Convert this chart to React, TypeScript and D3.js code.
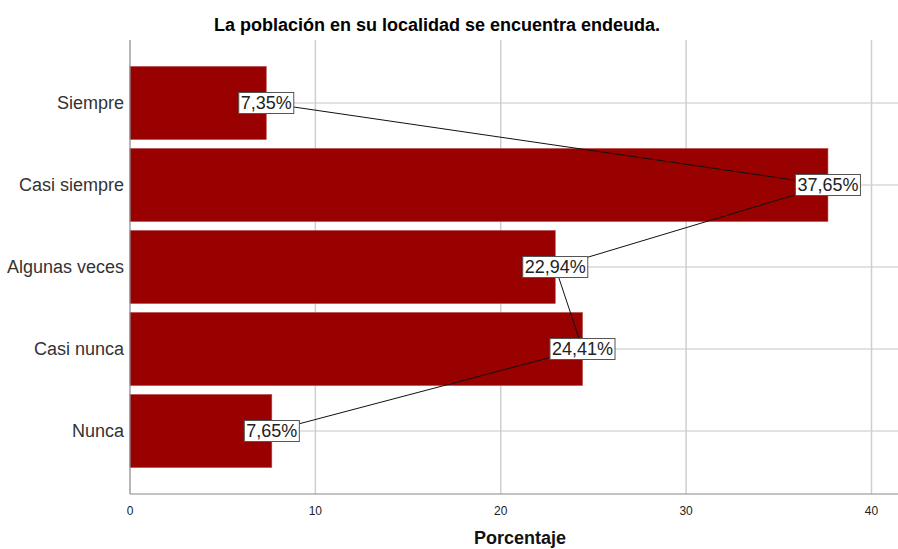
import React from "react";
import * as d3 from "d3";

const categories = ["Siempre", "Casi siempre", "Algunas veces", "Casi nunca", "Nunca"];
const values = [7.35, 37.65, 22.94, 24.41, 7.65];
const valueLabels = ["7,35%", "37,65%", "22,94%", "24,41%", "7,65%"];
const xTicks = [0, 10, 20, 30, 40];

const W = 898;
const H = 549;
const left = 130;
const right = 898;
const top = 40;
const bottom = 494;

function textWidth(s: string, size: number) {
  let w = 0;
  for (const ch of s) {
    if (ch === ",") w += 0.278;
    else if (ch === "%") w += 0.889;
    else w += 0.556;
  }
  return w * size;
}

export default function App() {
  const x = d3.scaleLinear().domain([0, 40]).range([130, 871.5]);
  const y = d3
    .scaleBand<string>()
    .domain(categories)
    .range([top, bottom])
    .paddingInner(9 / 82)
    .paddingOuter(0.323);
  const cy = (c: string) => (y(c) as number) + y.bandwidth() / 2;
  const line = d3
    .line<number>()
    .x((v) => x(v))
    .y((_, i) => cy(categories[i]));
  const font = "Liberation Sans, Arial, sans-serif";
  return (
    <svg
      width={W}
      height={H}
      style={{ position: "absolute", left: 0, top: 0, background: "#fff" }}
      fontFamily={font}
    >
      <rect x={0} y={0} width={W} height={H} fill="#fff" />
      <text x={437} y={31} textAnchor="middle" fontWeight="bold" fontSize={18} fill="#000">
        La población en su localidad se encuentra endeuda.
      </text>
      {categories.map((c) => (
        <line key={"h" + c} x1={left} x2={right} y1={cy(c)} y2={cy(c)} stroke="#d9d9d9" strokeWidth={1.5} />
      ))}
      {xTicks.slice(1).map((t) => (
        <line key={"v" + t} x1={x(t)} x2={x(t)} y1={top} y2={bottom} stroke="#cfcfcf" strokeWidth={1.5} />
      ))}
      {categories.map((c, i) => (
        <rect
          key={"b" + c}
          x={x(0)}
          y={y(c)}
          width={x(values[i]) - x(0)}
          height={y.bandwidth()}
          fill="#990000"
          stroke="#b84444"
          strokeWidth={0.6}
        />
      ))}
      <line x1={left} x2={left} y1={top} y2={bottom} stroke="#888" strokeWidth={1.2} />
      <line x1={left} x2={right} y1={bottom} y2={bottom} stroke="#888" strokeWidth={1.2} />
      {categories.map((c) => (
        <text key={"l" + c} x={124} y={cy(c)} dy="0.36em" textAnchor="end" fontSize={18} fill="#333">
          {c}
        </text>
      ))}
      {xTicks.map((t) => (
        <text key={"t" + t} x={x(t)} y={515} textAnchor="middle" fontSize={12} fill="#222">
          {t}
        </text>
      ))}
      <text x={520} y={544} textAnchor="middle" fontWeight="bold" fontSize={18} fill="#111">
        Porcentaje
      </text>
      <path d={line(values) as string} fill="none" stroke="#111" strokeWidth={1} />
      {categories.map((c, i) => {
        const w = textWidth(valueLabels[i], 18) + 4;
        return (
          <g key={"v" + c} transform={`translate(${x(values[i])},${cy(c)})`}>
            <rect x={-w / 2} y={-10.5} width={w} height={21} fill="#fff" stroke="#555" strokeWidth={1} />
            <text x={0} y={0} dy="0.36em" textAnchor="middle" fontSize={18} fill="#222">
              {valueLabels[i]}
            </text>
          </g>
        );
      })}
    </svg>
  );
}
